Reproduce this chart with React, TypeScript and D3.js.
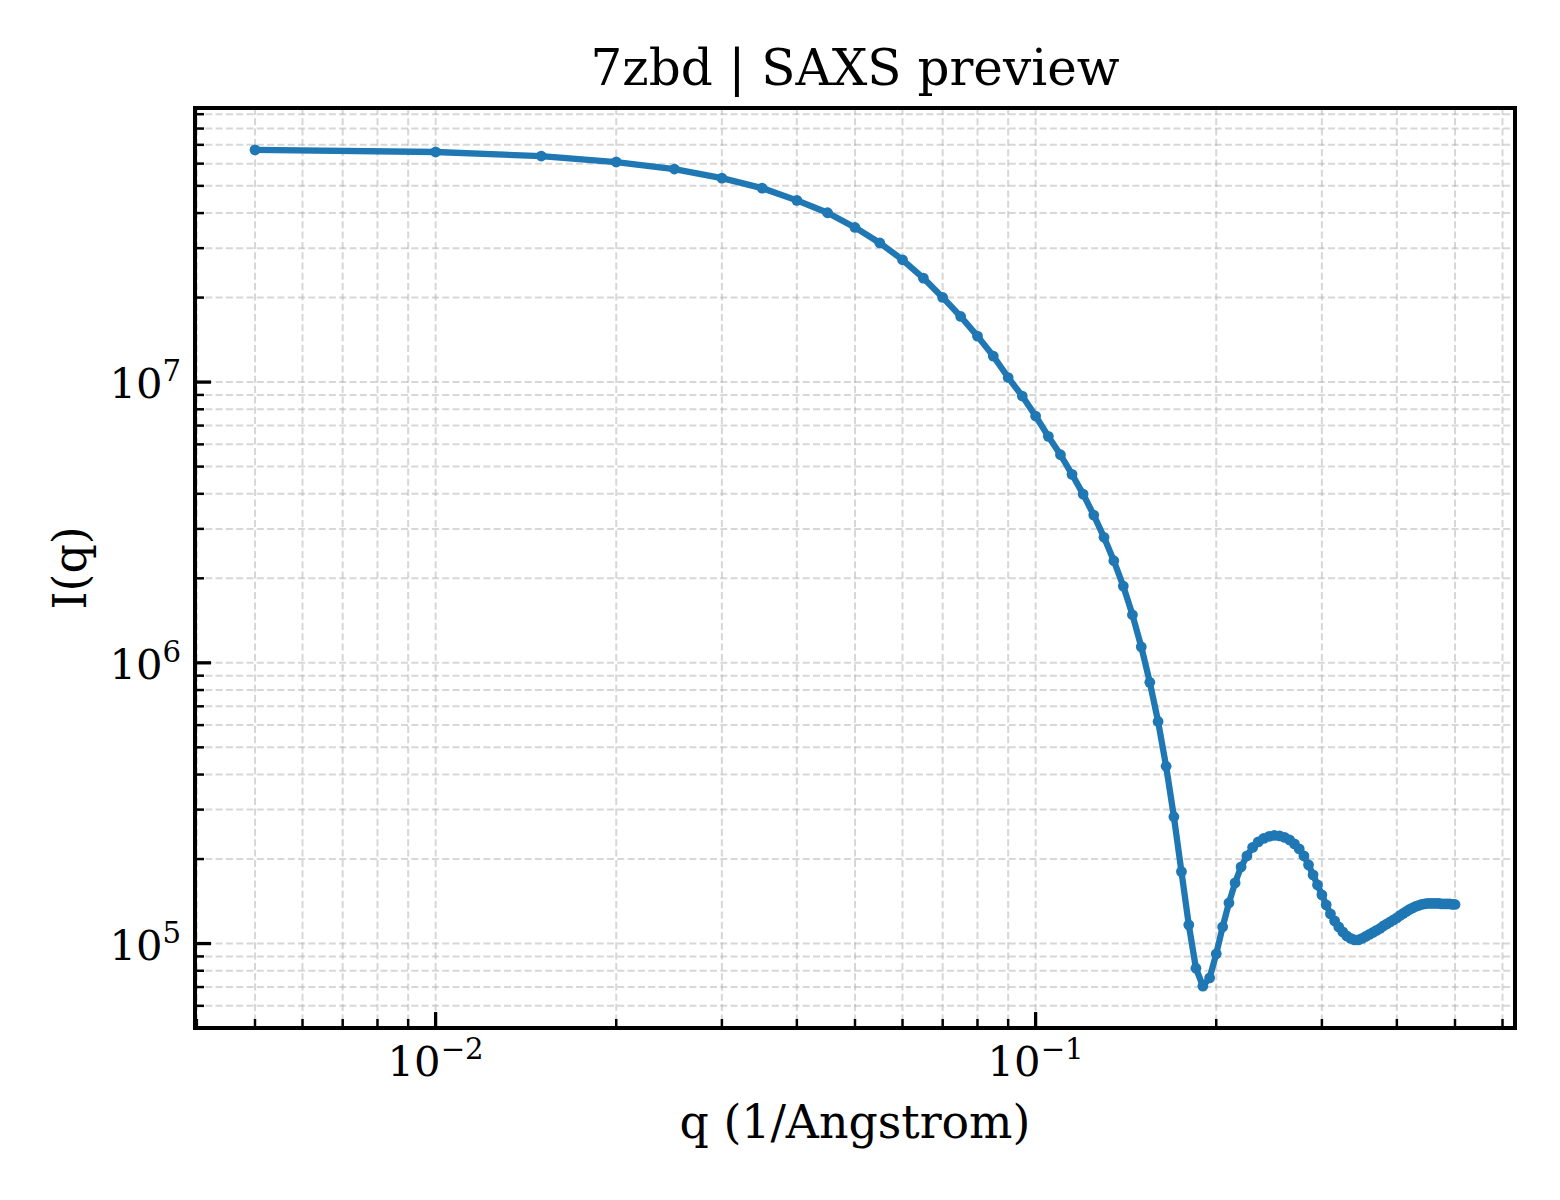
import * as d3 from "d3";

// q in 1/Angstrom
const Q_VALUES = [
  0.005, 0.01, 0.015, 0.02, 0.025, 0.03, 0.035, 0.04, 0.045, 0.05,
  0.055, 0.06, 0.065, 0.07, 0.075, 0.08, 0.085, 0.09, 0.095, 0.1,
  0.105, 0.11, 0.115, 0.12, 0.125, 0.13, 0.135, 0.14, 0.145, 0.15,
  0.155, 0.16, 0.165, 0.17, 0.175, 0.18, 0.185, 0.19, 0.195, 0.2,
  0.205, 0.21, 0.215, 0.22, 0.225, 0.23, 0.235, 0.24, 0.245, 0.25,
  0.255, 0.26, 0.265, 0.27, 0.275, 0.28, 0.285, 0.29, 0.295, 0.3,
  0.305, 0.31, 0.315, 0.32, 0.325, 0.33, 0.335, 0.34, 0.345, 0.35,
  0.355, 0.36, 0.365, 0.37, 0.375, 0.38, 0.385, 0.39, 0.395, 0.4,
  0.405, 0.41, 0.415, 0.42, 0.425, 0.43, 0.435, 0.44, 0.445, 0.45,
  0.455, 0.46, 0.465, 0.47, 0.475, 0.48, 0.485, 0.49, 0.495, 0.5,
];

// I(q)
const I_VALUES = [
  6.72e7, 6.6e7, 6.385e7, 6.08e7, 5.74e7, 5.33e7, 4.91e7, 4.44e7, 4.01e7, 3.555e7,
  3.13e7, 2.727e7, 2.347e7, 2.002e7, 1.713e7, 1.458e7, 1.238e7, 1.038e7, 8.92e6, 7.57e6,
  6.41e6, 5.51e6, 4.69e6, 3.99e6, 3.36e6, 2.8e6, 2.31e6, 1.876e6, 1.483e6, 1.14e6,
  8.52e5, 6.18e5, 4.28e5, 2.83e5, 1.805e5, 1.166e5, 8.17e4, 7.05e4, 7.55e4, 9.19e4,
  1.147e5, 1.396e5, 1.645e5, 1.875e5, 2.052e5, 2.201e5, 2.303e5, 2.37e5, 2.409e5, 2.429e5,
  2.419e5, 2.389e5, 2.341e5, 2.265e5, 2.174e5, 2.052e5, 1.907e5, 1.757e5, 1.618e5, 1.491e5,
  1.374e5, 1.276e5, 1.205e5, 1.147e5, 1.101e5, 1.065e5, 1.043e5, 1.031e5, 1.031e5, 1.043e5,
  1.061e5, 1.078e5, 1.096e5, 1.114e5, 1.132e5, 1.156e5, 1.175e5, 1.195e5, 1.214e5, 1.234e5,
  1.26e5, 1.281e5, 1.302e5, 1.323e5, 1.34e5, 1.356e5, 1.367e5, 1.378e5, 1.384e5, 1.39e5,
  1.39e5, 1.39e5, 1.39e5, 1.39e5, 1.384e5, 1.384e5, 1.384e5, 1.384e5, 1.378e5, 1.378e5,
];

const X_MAJOR = [1e-2, 1e-1];
const X_MAJOR_EXP = ["\u22122", "\u22121"];
const Y_MAJOR = [1e5, 1e6, 1e7];
const Y_MAJOR_EXP = ["5", "6", "7"];

const TITLE = "7zbd | SAXS preview";
const X_LABEL = "q (1/Angstrom)";
const Y_LABEL = "I(q)";

const W = 1560;
const H = 1200;
const box = { left: 195, right: 1515, top: 108, bottom: 1028 };
const FONT = "'DejaVu Serif', serif";
const BLUE = "#1f77b4";

// log domain with matplotlib-style 5% padding
function padLog(values: number[]): [number, number] {
  const lo = Math.log10(d3.min(values)!);
  const hi = Math.log10(d3.max(values)!);
  const pad = (hi - lo) * 0.05;
  return [Math.pow(10, lo - pad), Math.pow(10, hi + pad)];
}

function minorTicks(domain: [number, number]) {
  const out: number[] = [];
  const a = Math.floor(Math.log10(domain[0]));
  const b = Math.ceil(Math.log10(domain[1]));
  for (let e = a; e <= b; e++) {
    for (let m = 2; m <= 9; m++) {
      const v = m * Math.pow(10, e);
      if (v >= domain[0] && v <= domain[1]) out.push(v);
    }
  }
  return out;
}

export default function App() {
  const xDom = padLog(Q_VALUES);
  const yDom = padLog(I_VALUES);
  const x = d3.scaleLog().domain(xDom).range([box.left, box.right]);
  const y = d3.scaleLog().domain(yDom).range([box.bottom, box.top]);

  const pts = Q_VALUES.map((q, i) => ({ q, v: I_VALUES[i] }));
  const line = d3
    .line<{ q: number; v: number }>()
    .x((d) => x(d.q))
    .y((d) => y(d.v));

  const xMinor = minorTicks(xDom);
  const yMinor = minorTicks(yDom);

  const gridStyle = {
    stroke: "#b0b0b0",
    strokeOpacity: 0.5,
    strokeWidth: 2,
    strokeDasharray: "7,3.3",
  };

  return (
    <svg
      width={W}
      height={H}
      style={{ position: "absolute", left: 0, top: 0, background: "#fff" }}
      fontFamily={FONT}
    >
      <rect width={W} height={H} fill="#fff" />

      {/* grid, major + minor */}
      <g>
        {[...X_MAJOR, ...xMinor].map((t, i) => (
          <line key={"gx" + i} x1={x(t)} x2={x(t)} y1={box.top} y2={box.bottom} {...gridStyle} />
        ))}
        {[...Y_MAJOR, ...yMinor].map((t, i) => (
          <line key={"gy" + i} x1={box.left} x2={box.right} y1={y(t)} y2={y(t)} {...gridStyle} />
        ))}
      </g>

      {/* data */}
      <path d={line(pts) ?? ""} fill="none" stroke={BLUE} strokeWidth={6.3} strokeLinejoin="round" />
      {pts.map((d, i) => (
        <circle key={i} cx={x(d.q)} cy={y(d.v)} r={5.4} fill={BLUE} />
      ))}

      {/* ticks, pointing inward */}
      <g stroke="#000">
        {X_MAJOR.map((t, i) => (
          <line key={"xm" + i} x1={x(t)} x2={x(t)} y1={box.bottom} y2={box.bottom - 16} strokeWidth={3.3} />
        ))}
        {xMinor.map((t, i) => (
          <line key={"xn" + i} x1={x(t)} x2={x(t)} y1={box.bottom} y2={box.bottom - 9} strokeWidth={2.5} />
        ))}
        {Y_MAJOR.map((t, i) => (
          <line key={"ym" + i} x1={box.left} x2={box.left + 16} y1={y(t)} y2={y(t)} strokeWidth={3.3} />
        ))}
        {yMinor.map((t, i) => (
          <line key={"yn" + i} x1={box.left} x2={box.left + 9} y1={y(t)} y2={y(t)} strokeWidth={2.5} />
        ))}
      </g>

      {/* frame */}
      <rect
        x={box.left}
        y={box.top}
        width={box.right - box.left}
        height={box.bottom - box.top}
        fill="none"
        stroke="#000"
        strokeWidth={4}
      />

      {/* tick labels */}
      {X_MAJOR.map((t, i) => (
        <text key={"xl" + i} x={x(t)} y={box.bottom + 48} textAnchor="middle" fontSize={41.7} fill="#000">
          10
          <tspan dy={-17} fontSize={29.2}>
            {X_MAJOR_EXP[i]}
          </tspan>
        </text>
      ))}
      {Y_MAJOR.map((t, i) => (
        <text key={"yl" + i} x={box.left - 14} y={y(t) + 16} textAnchor="end" fontSize={41.7} fill="#000">
          10
          <tspan dy={-17} fontSize={29.2}>
            {Y_MAJOR_EXP[i]}
          </tspan>
        </text>
      ))}

      {/* labels */}
      <text x={(box.left + box.right) / 2} y={85} textAnchor="middle" fontSize={50} fill="#000">
        {TITLE}
      </text>
      <text x={(box.left + box.right) / 2} y={1138} textAnchor="middle" fontSize={45.8} fill="#000">
        {X_LABEL}
      </text>
      <text
        transform={`translate(86,${(box.top + box.bottom) / 2}) rotate(-90)`}
        textAnchor="middle"
        fontSize={45.8}
        fill="#000"
      >
        {Y_LABEL}
      </text>
    </svg>
  );
}
